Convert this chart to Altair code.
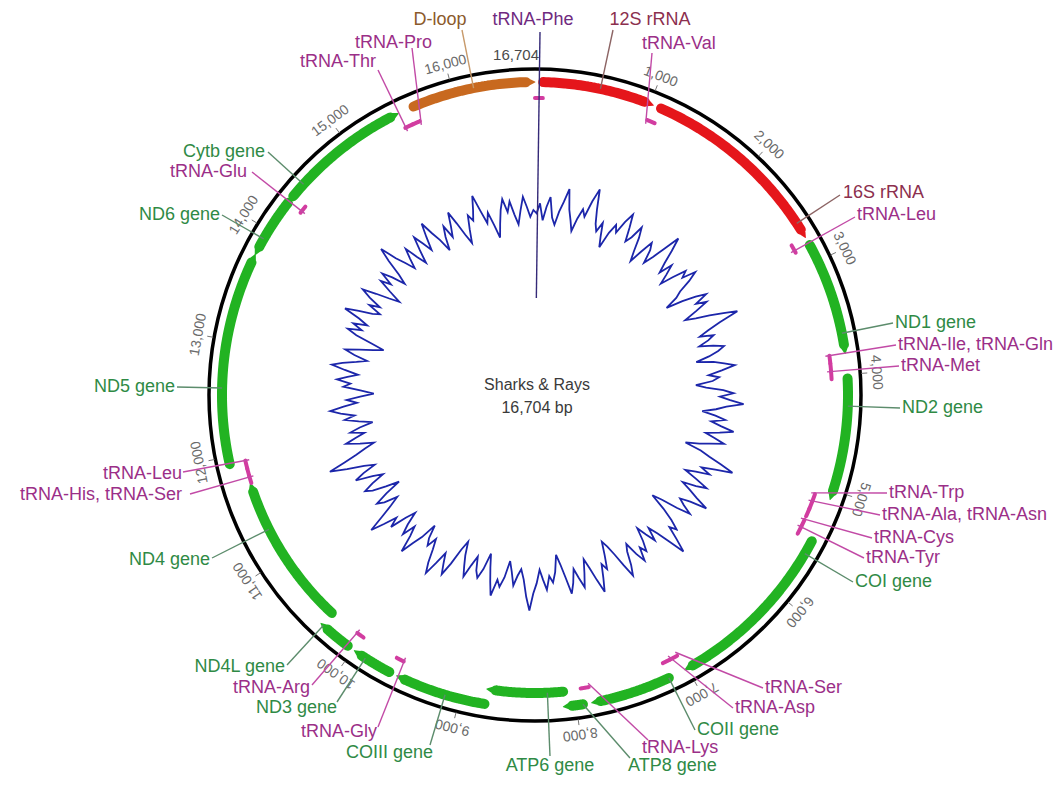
import altair as alt
import pandas as pd

GENOME = 16704

# ---------------- data ----------------
feat_id = ["tRNA-Phe", "12S rRNA", "tRNA-Val", "16S rRNA", "tRNA-Leu(UUR)", "ND1 gene",
           "tRNA-Ile", "tRNA-Gln", "tRNA-Met", "ND2 gene", "tRNA-Trp", "tRNA-Ala",
           "tRNA-Asn", "tRNA-Cys", "tRNA-Tyr", "COI gene", "tRNA-Ser(UCN)", "tRNA-Asp",
           "COII gene", "tRNA-Lys", "ATP8 gene", "ATP6 gene", "COIII gene", "tRNA-Gly",
           "ND3 gene", "tRNA-Arg", "ND4L gene", "ND4 gene", "tRNA-His", "tRNA-Ser(AGY)",
           "tRNA-Leu(CUN)", "ND5 gene", "ND6 gene", "tRNA-Glu", "Cytb gene", "tRNA-Thr",
           "tRNA-Pro", "D-loop"]
feat_start = [1, 71, 1031, 1103, 2774, 2849, 3824, 3895, 3967, 4036, 5082, 5152,
              5222, 5330, 5398, 5469, 7026, 7100, 7178, 7869, 7944, 8102, 8784, 9570,
              9640, 9989, 10058, 10348, 11729, 11798, 11865, 11937, 13764, 14286, 14359,
              15504, 15576, 15646]
feat_end = [70, 1030, 1102, 2773, 2848, 3823, 3893, 3966, 4035, 5081, 5150, 5220,
            5294, 5396, 5467, 7025, 7096, 7169, 7868, 7942, 8111, 8784, 9569, 9639,
            9988, 10057, 10354, 11728, 11797, 11864, 11936, 13767, 14285, 14354, 15503,
            15575, 15645, 16704]
feat_strand = [1, 1, 1, 1, 1, 1, 1, -1, 1, 1, 1, -1, -1, -1, -1, 1, -1, 1, 1, 1, 1, 1,
               1, 1, 1, 1, 1, 1, 1, 1, 1, 1, -1, -1, 1, 1, -1, 1]
feat_kind = ["tRNA", "rRNA", "tRNA", "rRNA", "tRNA", "gene", "tRNA", "tRNA", "tRNA",
             "gene", "tRNA", "tRNA", "tRNA", "tRNA", "tRNA", "gene", "tRNA", "tRNA",
             "gene", "tRNA", "gene", "gene", "gene", "tRNA", "gene", "tRNA", "gene",
             "gene", "tRNA", "tRNA", "tRNA", "gene", "gene", "tRNA", "gene", "tRNA",
             "tRNA", "D-loop"]

# label text and the features (first, last) it points at
label_text = ["tRNA-Phe", "D-loop", "12S rRNA", "tRNA-Val", "tRNA-Pro", "tRNA-Thr",
              "16S rRNA", "tRNA-Leu", "ND1 gene", "tRNA-Ile, tRNA-Gln", "tRNA-Met",
              "ND2 gene", "tRNA-Trp", "tRNA-Ala, tRNA-Asn", "tRNA-Cys", "tRNA-Tyr",
              "COI gene", "tRNA-Ser", "tRNA-Asp", "COII gene", "tRNA-Lys", "ATP8 gene",
              "ATP6 gene", "COIII gene", "tRNA-Gly", "ND3 gene", "tRNA-Arg", "ND4L gene",
              "ND4 gene", "tRNA-His, tRNA-Ser", "tRNA-Leu", "ND5 gene", "ND6 gene",
              "tRNA-Glu", "Cytb gene"]
label_feats = [("tRNA-Phe", "tRNA-Phe"), ("D-loop", "D-loop"), ("12S rRNA", "12S rRNA"),
               ("tRNA-Val", "tRNA-Val"), ("tRNA-Pro", "tRNA-Pro"), ("tRNA-Thr", "tRNA-Thr"),
               ("16S rRNA", "16S rRNA"), ("tRNA-Leu(UUR)", "tRNA-Leu(UUR)"),
               ("ND1 gene", "ND1 gene"), ("tRNA-Ile", "tRNA-Gln"), ("tRNA-Met", "tRNA-Met"),
               ("ND2 gene", "ND2 gene"), ("tRNA-Trp", "tRNA-Trp"), ("tRNA-Ala", "tRNA-Asn"),
               ("tRNA-Cys", "tRNA-Cys"), ("tRNA-Tyr", "tRNA-Tyr"), ("COI gene", "COI gene"),
               ("tRNA-Ser(UCN)", "tRNA-Ser(UCN)"), ("tRNA-Asp", "tRNA-Asp"),
               ("COII gene", "COII gene"), ("tRNA-Lys", "tRNA-Lys"), ("ATP8 gene", "ATP8 gene"),
               ("ATP6 gene", "ATP6 gene"), ("COIII gene", "COIII gene"), ("tRNA-Gly", "tRNA-Gly"),
               ("ND3 gene", "ND3 gene"), ("tRNA-Arg", "tRNA-Arg"), ("ND4L gene", "ND4L gene"),
               ("ND4 gene", "ND4 gene"), ("tRNA-His", "tRNA-Ser(AGY)"),
               ("tRNA-Leu(CUN)", "tRNA-Leu(CUN)"), ("ND5 gene", "ND5 gene"),
               ("ND6 gene", "ND6 gene"), ("tRNA-Glu", "tRNA-Glu"), ("Cytb gene", "Cytb gene")]

tick_pos = [1000, 2000, 3000, 4000, 5000, 6000, 7000, 8000, 9000, 10000, 11000, 12000,
            13000, 14000, 15000, 16000]

# sliding-window GC content (%) read around the inner ring, clockwise from the top
gc_values = [
    42, 45, 40, 44, 47, 41, 39, 43, 46, 50, 44, 41, 38, 42, 45, 43, 48, 52, 46, 42,
    40, 43, 39, 36, 41, 44, 42, 46, 49, 45, 41, 43, 47, 44, 40, 37, 41, 45, 43, 39,
    42, 46, 51, 47, 43, 40, 44, 41, 38, 42, 46, 44, 48, 45, 41, 39, 35, 40, 44, 47,
    43, 46, 42, 38, 41, 45, 49, 53, 47, 43, 40, 44, 42, 39, 43, 46, 44, 41, 37, 42,
    45, 48, 44, 40, 43, 41, 36, 39, 44, 47, 43, 46, 50, 45, 42, 38, 42, 45, 41, 44,
    48, 44, 40, 43, 46, 42, 39, 35, 40, 43, 47, 51, 46, 42, 45, 41, 38, 42, 46, 43,
    39, 42, 45, 49, 44, 41, 43, 46, 42, 37, 34, 39, 43, 46, 44, 48, 52, 47, 43, 40,
    44, 41, 38, 42, 45, 43, 47, 44, 40, 42, 46, 49, 45, 41, 38, 36, 40, 44, 42, 46,
    50, 46, 42, 39, 43, 47, 44, 41, 45, 48, 43, 39, 36, 41, 44, 42, 46, 43, 40, 44,
    47, 52, 48, 43, 40, 42, 45, 41, 38, 43, 46, 44, 49, 45, 41, 37, 42, 45, 43, 39,
    42, 46, 43, 40, 36, 39, 44, 48, 45, 42, 46, 50, 47, 43, 40, 43, 41, 37, 42, 45,
    49, 44, 41, 45, 42, 38, 41, 46, 43, 47, 51, 46, 42, 39, 43, 45, 41, 36, 40, 44,
    46, 43, 39, 42, 47, 44, 40, 43, 48, 53, 48, 44, 41, 38, 42, 46, 43, 40, 44, 41,
    37, 41, 45, 42, 46, 49, 45, 41, 44, 40, 36, 40, 45, 43, 47, 44, 41, 45, 49, 46,
    42, 39, 43, 46, 42, 38, 35, 39, 44, 47, 43, 46, 42, 45, 50, 46, 42, 40, 44, 41,
    45, 48, 44, 40, 37, 41, 45, 42, 46, 43, 39, 42, 47, 51, 46, 43, 40, 43, 46, 42,
    39, 43, 47, 44, 41, 45, 49, 45, 42, 38, 42, 45, 41, 44, 48, 44, 40, 37, 41, 45,
    43, 46, 50, 45, 41, 44, 40, 36, 40, 44, 47, 43, 46, 42, 39, 43, 47, 44, 41, 43,
]

center_lines = ["Sharks & Rays", "16,704 bp"]

# ---------------- layout (label anchors relative to the map centre, px; y up) ----------------
label_anchor = [(5, 363), (-73, 365), (78, 365), (117, 342), (-123, 347), (-157, 325),
                (305, 200), (320, 178), (358, 72), (361, 50), (364, 29), (365, -13),
                (352, -98), (345, -120), (337, -143), (329, -163), (318, -187),
                (228, -293), (198, -313), (160, -335), (113, -345), (95, -363),
                (15, -361), (-105, -350), (-157, -332), (-198, -307), (-223, -290),
                (-248, -270), (-323, -163), (-345, -99), (-352, -77), (-358, 8),
                (-313, 180), (-283, 223), (-267, 243)]
label_align = ["center", "center", "center", "left", "right", "right",
               "left", "left", "left", "left", "left", "left", "left", "left", "left",
               "left", "left", "left", "left", "left", "left", "left", "center",
               "right", "right", "right", "right", "right", "right", "right", "right",
               "right", "right", "right", "right"]
label_shift = [(-7, 12), (-22, 10), (37, 10), (-10, 9), (20, 5), (-2, 8),
               (3, 2), (2, 2), (2, 0), (2, 0), (2, 0), (2, 0), (2, 0), (2, 0), (2, 0),
               (2, 0), (2, 0), (2, 0), (2, 0), (2, 0), (-6, -8), (-2, -8), (0, -10),
               (3, -8), (-1, -5), (0, -6), (-2, -3), (-2, -2), (-2, -2), (-8, -1),
               (-1, -2), (-2, 0), (-2, 0), (-5, 0), (-3, 0)]
center_offsets = [(2, 10), (2, -13)]
inner_lane = ["ND4 gene", "ATP6 gene"]

FONT = "Liberation Sans"
band_colors = {"gene": "#22b322", "rRNA": "#e5161b", "tRNA": "#d23ca0", "D-loop": "#c8691f"}
text_colors = {"gene": "#2f8a45", "rRNA": "#8c2f4e", "tRNA": "#9b2f88",
               "D-loop": "#8b5a2b", "phe": "#6f2a80"}
lead_colors = {"gene": "#5c8c6c", "rRNA": "#8c6464", "tRNA": "#c24aa6",
               "D-loop": "#c89b6c", "phe": "#352a78"}

XS = alt.Scale(domain=[-527, 521], nice=False, zero=False)
YS = alt.Scale(domain=[-382, 387], nice=False, zero=False)


def X(f):
    return alt.X(f, type="quantitative", scale=XS, axis=None)


def Y(f):
    return alt.Y(f, type="quantitative", scale=YS, axis=None)


def cscale(d):
    return alt.Scale(domain=list(d.keys()), range=list(d.values()))


TWO_PI = f"(2 * PI / {GENOME})"
inner_js = "[" + ", ".join(f"'{v}'" for v in inner_lane) + "]"

# ---------------- tables ----------------
feat_df = pd.DataFrame({"id": feat_id, "start": feat_start, "end": feat_end,
                        "strand": feat_strand, "kind": feat_kind})

idx = {f: i for i, f in enumerate(feat_id)}
rows = []
for i, t in enumerate(label_text):
    first, last = label_feats[i]
    kind = feat_kind[idx[first]]
    rows.append({
        "label": t, "fid": first,
        "s": feat_start[idx[first]] - 1, "e": feat_end[idx[last]],
        "kind": kind, "style": "phe" if t == "tRNA-Phe" else kind,
        "ax": label_anchor[i][0], "ay": label_anchor[i][1],
        "tdx": label_shift[i][0], "tdy": label_shift[i][1],
        "align": label_align[i],
    })
lab_df = pd.DataFrame(rows)

gc_df = pd.DataFrame({"pos": [(i + 0.5) * GENOME / len(gc_values) for i in range(len(gc_values))],
                      "gc": gc_values})
tick_df = pd.DataFrame({"pos": tick_pos})
end_df = pd.DataFrame({"pos": [GENOME]})
origin_df = pd.DataFrame({"x": [0], "y": [0]})
center_df = pd.DataFrame({"line": center_lines,
                          "x": [c[0] for c in center_offsets],
                          "y": [c[1] for c in center_offsets]})

# ---------------- layers ----------------
gc_line = alt.Chart(gc_df).transform_calculate(
    ang=f"datum.pos * {TWO_PI}",
    rr="185 + (datum.gc - 43) * 3.4",
    gx="datum.rr * sin(datum.ang)",
    gy="datum.rr * cos(datum.ang)",
).mark_line(interpolate="linear-closed", color="#1c26aa", strokeWidth=1.8).encode(
    x=X("gx"), y=Y("gy"), order="pos:Q")

ring = alt.Chart(origin_df).mark_point(
    shape="circle", size=652 * 652, filled=False, stroke="#000000", strokeWidth=3.5,
    opacity=1).encode(x=X("x"), y=Y("y"))

arcs = alt.Chart(feat_df).transform_calculate(
    steps="sequence(0, 41)"
).transform_flatten(["steps"], as_=["t"]).transform_calculate(
    a0=f"(datum.start - 1) * {TWO_PI}",
    a1=f"datum.end * {TWO_PI}",
    r=f"datum.kind == 'tRNA' ? 297 : (indexof({inner_js}, datum.id) >= 0 ? 298 : 313)",
    w="datum.kind == 'tRNA' ? 4 : 10",
    L="datum.kind == 'tRNA' ? 0 : min(9 / datum.r, 0.45 * (datum.a1 - datum.a0))",
    tip="datum.strand > 0 ? datum.a1 : datum.a0",
    base="datum.strand > 0 ? datum.a0 : datum.a1",
    ab="datum.tip - datum.strand * datum.L",
    ang="datum.t < 40 ? datum.base + (datum.ab - datum.base) * datum.t / 39 : datum.tip",
    px="datum.r * sin(datum.ang)",
    py="datum.r * cos(datum.ang)",
    sz="datum.t < 40 ? datum.w : 0",
).mark_trail().encode(
    x=X("px"), y=Y("py"), detail="id:N", order="t:Q",
    size=alt.Size("sz:Q", scale=None, legend=None),
    color=alt.Color("kind:N", scale=cscale(band_colors), legend=None),
)

tick_rules = alt.Chart(tick_df).transform_calculate(
    ang=f"datum.pos * {TWO_PI}",
    x1="327 * sin(datum.ang)", y1="327 * cos(datum.ang)",
    x2="333 * sin(datum.ang)", y2="333 * cos(datum.ang)",
).mark_rule(color="#777777", strokeWidth=1).encode(
    x=X("x1"), y=Y("y1"), x2="x2:Q", y2="y2:Q")

tick_text = alt.Chart(tick_df).transform_calculate(
    ang=f"datum.pos * {TWO_PI}",
    deg=f"datum.pos * 360 / {GENOME}",
    lx="342 * sin(datum.ang)", ly="342 * cos(datum.ang)",
).mark_text(font=FONT, fontSize=14, color="#6a6a6a", align="center",
            baseline="middle").encode(
    x=X("lx"), y=Y("ly"), text=alt.Text("pos:Q", format=","),
    angle=alt.Angle("deg:Q", scale=None))

end_text = alt.Chart(end_df).transform_calculate(
    ang=f"datum.pos * {TWO_PI}",
    lx="340 * sin(datum.ang)", ly="340 * cos(datum.ang)",
).mark_text(font=FONT, fontSize=15, color="#4a4a4a", align="right",
            baseline="middle", dx=4).encode(
    x=X("lx"), y=Y("ly"), text=alt.Text("pos:Q", format=","))

lab_base = alt.Chart(lab_df).transform_calculate(
    s0=f"datum.s * {TWO_PI}",
    s1=f"datum.e * {TWO_PI}",
    aa="atan2(datum.ax, datum.ay) < 0 ? atan2(datum.ax, datum.ay) + 2 * PI : atan2(datum.ax, datum.ay)",
    ca="clamp(datum.aa, datum.s0, datum.s1)",
    lr=f"datum.style == 'phe' ? 97 : (datum.kind == 'tRNA' ? 293 : (indexof({inner_js}, datum.fid) >= 0 ? 298 : 313))",
    ex="datum.lr * sin(datum.ca)",
    ey="datum.lr * cos(datum.ca)",
    tx="datum.ax + datum.tdx",
    ty="datum.ay + datum.tdy",
)

leaders = lab_base.mark_rule(strokeWidth=1.4).encode(
    x=X("ax"), y=Y("ay"), x2="ex:Q", y2="ey:Q",
    color=alt.Color("style:N", scale=cscale(lead_colors), legend=None))


def label_layer(al):
    return lab_base.transform_filter(f"datum.align == '{al}'").mark_text(
        font=FONT, fontSize=18, align=al, baseline="middle").encode(
        x=X("tx"), y=Y("ty"), text="label:N",
        color=alt.Color("style:N", scale=cscale(text_colors), legend=None))


center_text = alt.Chart(center_df).mark_text(
    font=FONT, fontSize=16, color="#3a3a3a", align="center", baseline="middle").encode(
    x=X("x"), y=Y("y"), text="line:N")

chart = alt.layer(
    gc_line, ring, arcs, tick_rules, tick_text, end_text, leaders,
    label_layer("left"), label_layer("right"), label_layer("center"), center_text,
).resolve_scale(color="independent", size="independent").properties(
    width=1048, height=769, padding=0,
    autosize=alt.AutoSizeParams(type="none"),
).configure_view(strokeWidth=0)

chart.save("out.html", embed_options={"renderer": "svg", "actions": False})
